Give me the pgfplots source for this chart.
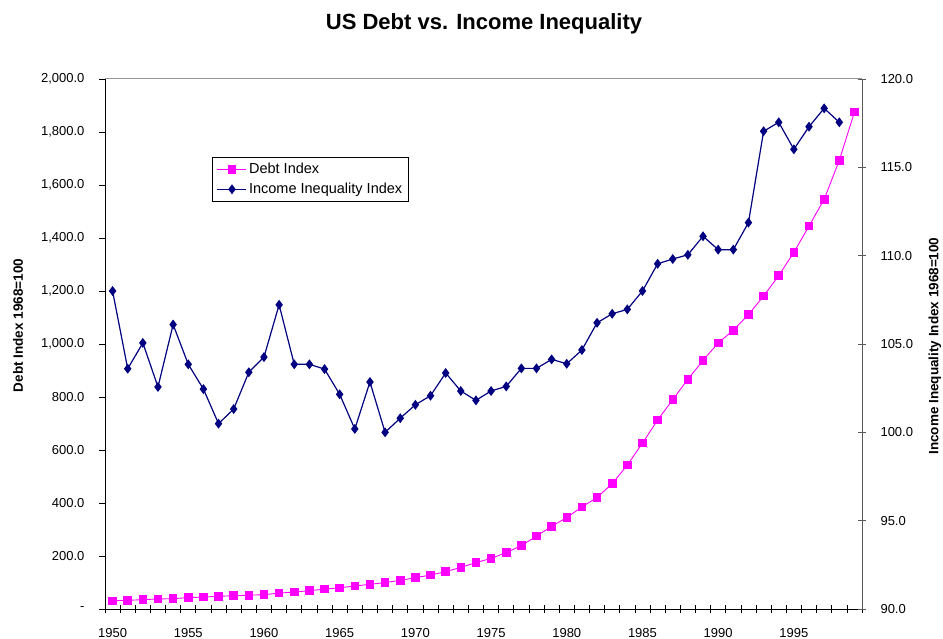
\documentclass[border=0pt]{standalone}
\usepackage{fontspec}
\setmainfont{Liberation Sans}
\usepackage{pgfplots}
\pgfplotsset{compat=1.18}
\definecolor{debt}{RGB}{255,0,255}
\definecolor{inc}{RGB}{0,0,128}
\definecolor{axgray}{RGB}{90,90,90}
\definecolor{topgray}{RGB}{150,150,150}

\pgfplotstableread{
year debt
1950 31
1951 33
1952 35
1953 38
1954 39
1955 43
1956 45
1957 48
1958 50
1959 52
1960 54
1961 60
1962 64
1963 69
1964 75
1965 80
1966 87
1967 93
1968 100
1969 108
1970 118
1971 128
1972 141
1973 157
1974 175
1975 191
1976 213
1977 239
1978 275
1979 312
1980 345
1981 385
1982 421
1983 473
1984 543
1985 626
1986 713
1987 790
1988 867
1989 938
1990 1004
1991 1052
1992 1111
1993 1181
1994 1258
1995 1346
1996 1445
1997 1546
1998 1693
1999 1875
}\debttable

\pgfplotstableread{
year inc
1950 108.0
1951 103.6
1952 105.06
1953 102.57
1954 106.1
1955 103.85
1956 102.45
1957 100.49
1958 101.32
1959 103.4
1960 104.26
1961 107.22
1962 103.85
1963 103.85
1964 103.58
1965 102.15
1966 100.19
1967 102.85
1968 100.0
1969 100.8
1970 101.56
1971 102.07
1972 103.36
1973 102.34
1974 101.81
1975 102.34
1976 102.6
1977 103.62
1978 103.62
1979 104.13
1980 103.88
1981 104.66
1982 106.2
1983 106.71
1984 106.96
1985 108.0
1986 109.54
1987 109.81
1988 110.05
1989 111.1
1990 110.34
1991 110.34
1992 111.87
1993 117.04
1994 117.55
1995 116.02
1996 117.3
1997 118.34
1998 117.55
}\inctable

\pgfplotsset{
  debtstyle/.style={color=debt, line width=0.9bp, mark=square*, mark size=3.8bp, mark options={fill=debt, draw=debt}},
  incstyle/.style={color=inc, line width=1.2bp, mark=diamond*, mark size=4bp, mark options={fill=inc, draw=inc}},
}

\begin{document}
\begin{tikzpicture}
\path[use as bounding box] (-105bp,-30bp) rectangle (838bp,609bp);
\begin{axis}[
  at={(0,0)}, anchor=south west, scale only axis,
  width=757bp, height=530bp,
  xmin=1949.5, xmax=1999.5, ymin=0, ymax=2000,
  axis x line*=bottom, axis y line*=left,
  axis line style={-, black, line width=0.8bp},
  xtick={1950,1955,...,1995},
  xticklabels={1950,1955,1960,1965,1970,1975,1980,1985,1990,1995},
  major x tick style={draw=none},
  minor xtick={1949.5,1950.5,...,1999.5},
  minor tick length=8bp,
  xtick align=center,
  ytick={0,200,...,2000},
  yticklabels={-,200.0,400.0,600.0,800.0,{1,000.0},{1,200.0},{1,400.0},{1,600.0},{1,800.0},{2,000.0}},
  ytick align=outside,
  major tick length=6bp,
  tick style={black, line width=0.7bp},
  ticklabel style={font=\fontsize{13bp}{15bp}\selectfont},
  yticklabel style={xshift=-11bp},
  xticklabel style={yshift=-13bp},
  ylabel={Debt Index 1968=100},
  ylabel style={at={(axis description cs:-0.1149,0.535)}, rotate=0, anchor=center, font=\fontsize{13.5bp}{15bp}\selectfont\bfseries},
  clip=false,
]
\draw[topgray, line width=1bp] (rel axis cs:0,1) -- (rel axis cs:1,1);
\addplot[debtstyle] table[x=year, y=debt] {\debttable};
\end{axis}
\begin{axis}[
  at={(0,0)}, anchor=south west, scale only axis,
  width=757bp, height=530bp,
  xmin=1949.5, xmax=1999.5, ymin=90, ymax=120,
  axis x line=none, axis y line*=right,
  axis line style={-, axgray, line width=1bp},
  ytick={90,95,...,120},
  yticklabels={90.0,95.0,100.0,105.0,110.0,115.0,120.0},
  ytick align=center,
  major tick length=8bp,
  tick style={axgray, line width=0.7bp},
  ticklabel style={font=\fontsize{13bp}{15bp}\selectfont},
  yticklabel style={xshift=11bp},
  ylabel={Income Inequality Index 1968=100},
  ylabel style={at={(axis description cs:1.0964,0.496)}, rotate=0, anchor=center, font=\fontsize{13.5bp}{15bp}\selectfont\bfseries},
  clip=false,
  legend style={at={(rel axis cs:0.142,0.853)}, anchor=north west, draw=black, line width=0.8bp, fill=white,
    font=\fontsize{14.5bp}{16bp}\selectfont, row sep=4bp, inner xsep=4bp, inner ysep=4bp},
  legend cell align=left,
  legend image code/.code={\draw[mark repeat=2, mark phase=2, #1] plot coordinates {(0bp,0bp) (14.5bp,0bp) (29bp,0bp)};},
]
\addlegendimage{debtstyle}
\addlegendentry{Debt Index}
\addplot[incstyle] table[x=year, y=inc] {\inctable};
\addlegendentry{Income Inequality Index}
\end{axis}
\node[font=\fontsize{22bp}{26bp}\selectfont\bfseries] at (379bp,585bp) {US Debt vs. Income Inequality};
\end{tikzpicture}
\end{document}
